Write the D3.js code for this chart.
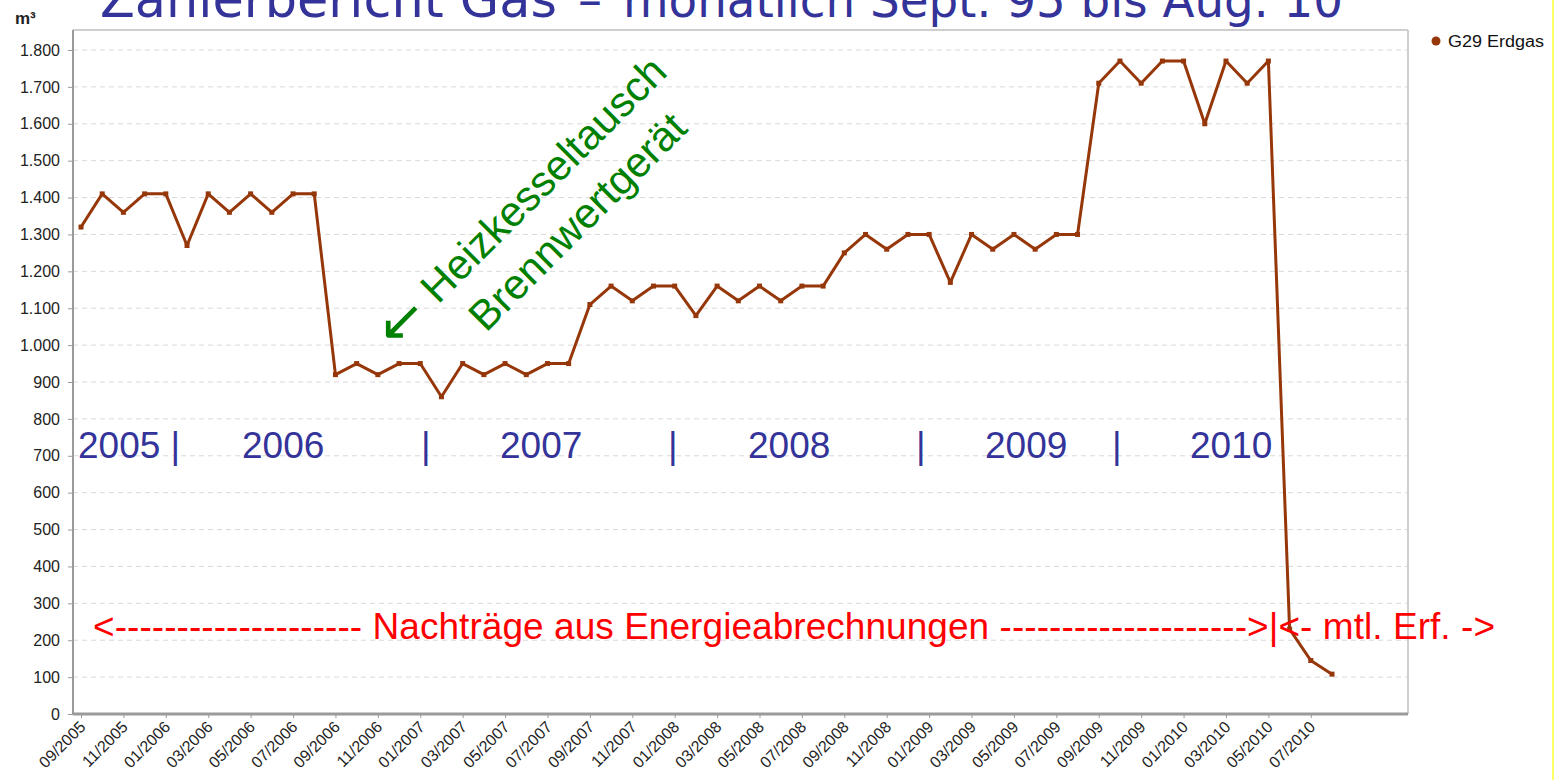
<!DOCTYPE html>
<html>
<head>
<meta charset="utf-8">
<script src="https://cdn.jsdelivr.net/npm/d3@7"></script>
<style>
body { margin: 0; background: #fff; overflow: hidden; }
svg { display: block; }
</style>
</head>
<body>
<svg id="chart" width="1555" height="780"></svg>
<script>
// monthly gas consumption (m³), Sept. 2005 .. Aug. 2010
var months = [
    "09/2005","10/2005","11/2005","12/2005",
    "01/2006","02/2006","03/2006","04/2006","05/2006","06/2006","07/2006","08/2006","09/2006","10/2006","11/2006","12/2006",
    "01/2007","02/2007","03/2007","04/2007","05/2007","06/2007","07/2007","08/2007","09/2007","10/2007","11/2007","12/2007",
    "01/2008","02/2008","03/2008","04/2008","05/2008","06/2008","07/2008","08/2008","09/2008","10/2008","11/2008","12/2008",
    "01/2009","02/2009","03/2009","04/2009","05/2009","06/2009","07/2009","08/2009","09/2009","10/2009","11/2009","12/2009",
    "01/2010","02/2010","03/2010","04/2010","05/2010","06/2010","07/2010","08/2010"
];
var gas = [
    1320, 1410, 1360, 1410,
    1410, 1270, 1410, 1360, 1410, 1360, 1410, 1410, 920, 950, 920, 950,
    950, 860, 950, 920, 950, 920, 950, 950, 1110, 1160, 1120, 1160,
    1160, 1080, 1160, 1120, 1160, 1120, 1160, 1160, 1250, 1300, 1260, 1300,
    1300, 1170, 1300, 1260, 1300, 1260, 1300, 1300, 1710, 1770, 1710, 1770,
    1770, 1600, 1770, 1710, 1770, 230, 145, 108
];
var tickLabels = [
    "09/2005","11/2005","01/2006","03/2006","05/2006","07/2006","09/2006","11/2006",
    "01/2007","03/2007","05/2007","07/2007","09/2007","11/2007","01/2008","03/2008",
    "05/2008","07/2008","09/2008","11/2008","01/2009","03/2009","05/2009","07/2009",
    "09/2009","11/2009","01/2010","03/2010","05/2010","07/2010"
];
var yTicks = [0, 100, 200, 300, 400, 500, 600, 700, 800, 900, 1000, 1100, 1200, 1300, 1400, 1500, 1600, 1700, 1800];
var seriesName = "G29 Erdgas";
var yearLabels = ["2005 |", "2006", "|", "2007", "|", "2008", "|", "2009", "|", "2010"];

// layout
var frame = { left: 73, right: 1408, top: 30, bottom: 714 };
var yearX = [78, 242, 421, 500, 668, 748, 916, 985, 1112, 1190];
var lineColor = "#96370a";

var svg = d3.select("#chart");

var de = d3.formatLocale({ decimal: ",", thousands: ".", grouping: [3], currency: ["", " €"] });
var fmt = de.format(",d");

var x = d3.scaleLinear().domain([0, months.length - 1]).range([81, 1332]);
var y = d3.scaleLinear().domain([0, 1800]).range([714, 50]);

// title (top is cut off in the original slide)
var title = svg.append("text")
    .attr("x", 100)
    .attr("y", 17)
    .style("font-family", "'DejaVu Sans', sans-serif")
    .style("fill", "#333399");
title.append("tspan")
    .attr("font-size", 52)
    .attr("textLength", 457)
    .attr("lengthAdjust", "spacingAndGlyphs")
    .text("Zählerbericht Gas");
title.append("tspan")
    .attr("x", 578)
    .attr("font-size", 48)
    .text("–");
title.append("tspan")
    .attr("x", 623)
    .attr("font-size", 48)
    .attr("textLength", 720)
    .attr("lengthAdjust", "spacingAndGlyphs")
    .text("monatlich Sept. 95 bis Aug. 10");

// gridlines
svg.append("g")
    .selectAll("line")
    .data(yTicks.filter(function(d) { return d > 0; }))
    .enter().append("line")
    .attr("x1", frame.left)
    .attr("x2", frame.right)
    .attr("y1", function(d) { return y(d); })
    .attr("y2", function(d) { return y(d); })
    .attr("stroke", "#d9d9d9")
    .attr("stroke-width", 1)
    .attr("stroke-dasharray", "5,4");

// frame
svg.append("line").attr("x1", frame.left).attr("x2", frame.right).attr("y1", frame.top).attr("y2", frame.top)
    .attr("stroke", "#cfcfcf").attr("stroke-width", 2);
svg.append("line").attr("x1", frame.right).attr("x2", frame.right).attr("y1", frame.top).attr("y2", frame.bottom)
    .attr("stroke", "#cfcfcf").attr("stroke-width", 2);

// y axis
var yAxis = d3.axisLeft(y).tickValues(yTicks).tickFormat(fmt).tickSize(5).tickPadding(8);
var gy = svg.append("g").attr("transform", "translate(" + frame.left + ",0)").call(yAxis);
gy.select(".domain").attr("d", "M0," + frame.top + "V" + frame.bottom).attr("stroke", "#9a9a9a").attr("stroke-width", 2);
gy.selectAll(".tick line").attr("stroke", "#9a9a9a");
gy.selectAll("text")
    .style("font-family", "'Liberation Sans', Arial, sans-serif")
    .style("font-size", "16px")
    .style("fill", "#222");

// x axis
var tickIdx = tickLabels.map(function(l) { return months.indexOf(l); });
var xAxis = d3.axisBottom(x).tickValues(tickIdx).tickFormat(function(d) { return months[d]; }).tickSize(4);
var gx = svg.append("g").attr("transform", "translate(0," + frame.bottom + ")").call(xAxis);
gx.select(".domain").attr("d", "M" + frame.left + ",0H" + frame.right).attr("stroke", "#9a9a9a").attr("stroke-width", 3);
gx.selectAll(".tick line").attr("stroke", "#9a9a9a");
gx.selectAll("text")
    .attr("text-anchor", "end")
    .attr("dy", null)
    .attr("y", 0)
    .attr("transform", "translate(5,14) rotate(-45)")
    .style("font-family", "'Liberation Sans', Arial, sans-serif")
    .style("font-size", "16px")
    .style("fill", "#222");

// m³ unit
svg.append("text")
    .attr("x", 15)
    .attr("y", 24)
    .style("font-family", "'Liberation Sans', Arial, sans-serif")
    .style("font-size", "17px")
    .style("font-weight", "bold")
    .style("fill", "#222")
    .text("m³");

// series
var line = d3.line()
    .x(function(d, i) { return x(i); })
    .y(function(d) { return y(d); });

svg.append("path")
    .datum(gas)
    .attr("d", line)
    .attr("fill", "none")
    .attr("stroke", lineColor)
    .attr("stroke-width", 3)
    .attr("stroke-linejoin", "round");

svg.append("g")
    .selectAll("rect")
    .data(gas)
    .enter().append("rect")
    .attr("x", function(d, i) { return x(i) - 2.5; })
    .attr("y", function(d) { return y(d) - 2.5; })
    .attr("width", 5)
    .attr("height", 5)
    .attr("fill", lineColor);

// legend
svg.append("circle").attr("cx", 1436).attr("cy", 41).attr("r", 4.5).attr("fill", lineColor);
svg.append("text")
    .attr("x", 1448)
    .attr("y", 47)
    .attr("textLength", 96)
    .attr("lengthAdjust", "spacingAndGlyphs")
    .style("font-family", "'Liberation Sans', Arial, sans-serif")
    .style("font-size", "16px")
    .style("fill", "#111")
    .text(seriesName);

// year annotations
svg.append("g")
    .selectAll("text")
    .data(yearLabels)
    .enter().append("text")
    .attr("x", function(d, i) { return yearX[i]; })
    .attr("y", 458)
    .style("font-family", "'Liberation Sans', Arial, sans-serif")
    .style("font-size", "37px")
    .style("fill", "#333399")
    .text(function(d) { return d; });

// red annotation
svg.append("text")
    .attr("x", 93)
    .attr("y", 639)
    .attr("textLength", 1402)
    .attr("lengthAdjust", "spacing")
    .style("font-family", "'Liberation Sans', Arial, sans-serif")
    .style("font-size", "37px")
    .style("fill", "#ff0000")
    .style("white-space", "pre")
    .text("<-------------------- Nachträge aus Energieabrechnungen -------------------->|<- mtl. Erf. ->");

// green rotated annotation
var note = svg.append("g")
    .attr("transform", "translate(438,305) rotate(-45)")
    .style("font-family", "'Liberation Sans', Arial, sans-serif")
    .style("font-size", "42px")
    .style("fill", "#008000");
note.append("text")
    .attr("x", -38)
    .attr("y", 4)
    .attr("text-anchor", "middle")
    .style("font-family", "'DejaVu Sans', sans-serif")
    .style("font-size", "56px")
    .text("←");
note.append("text").attr("x", 0).attr("y", 0).text("Heizkesseltausch");
note.append("text").attr("x", 14).attr("y", 54).text("Brennwertgerät");

// slide border on the right
svg.append("line").attr("x1", 1553).attr("x2", 1553).attr("y1", 0).attr("y2", 780)
    .attr("stroke", "#ffff66").attr("stroke-width", 2);
</script>
</body>
</html>
